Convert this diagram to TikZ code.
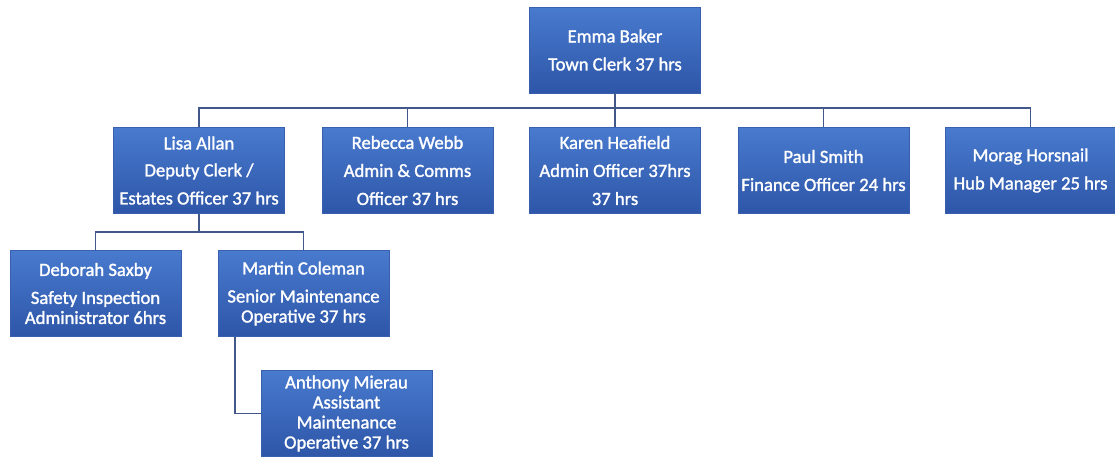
\documentclass[tikz,border=0pt]{standalone}
\usepackage{fontspec}
\setmainfont{Carlito}
\newfontfamily\orgfont{Carlito}[RawFeature={embolden=1.5}]
\definecolor{orgtop}{RGB}{72,122,206}
\definecolor{orgbot}{RGB}{46,86,168}
\definecolor{orgedge}{RGB}{56,96,174}
\definecolor{orgline}{RGB}{66,88,138}

\tikzset{
  staff/.style={rectangle, draw=orgedge, top color=orgtop, bottom color=orgbot,
    minimum width=3.42cm, minimum height=1.72cm, inner sep=0pt, text=white,
    align=center, font=\orgfont\fontsize{10.6}{11.4}\selectfont},
  link/.style={draw=orgline, line width=1.1pt}
}

\begin{document}
\begin{tikzpicture}
    \useasboundingbox (0,0) rectangle (22.3,9.14);

    % Town clerk
    \node[staff] (emma) at (12.3, 8.14) {Emma Baker\\[1.6mm]Town Clerk 37 hrs};

    % Second row
    \node[staff] (lisa) at (3.98, 5.73) {Lisa Allan\\[1.4mm]Deputy Clerk /\\[1.6mm]Estates Officer 37 hrs};
    \node[staff] (rebecca) at (8.15, 5.73) {Rebecca Webb\\[1.6mm]Admin \& Comms\\[1.6mm]Officer 37 hrs};
    \node[staff] (karen) at (12.3, 5.73) {Karen Heafield\\[1.6mm]Admin Officer 37hrs\\[1.6mm]37 hrs};
    \node[staff] (paul) at (16.47, 5.73) {Paul Smith\\[1.6mm]Finance Officer 24 hrs};
    \node[staff] (morag) at (20.61, 5.73) {Morag Horsnail\\[1.6mm]Hub Manager 25 hrs};

    % Third row
    \node[staff] (deborah) at (1.91, 3.27) {Deborah Saxby\\[1.6mm]Safety Inspection\\Administrator 6hrs};
    \node[staff] (martin) at (6.07, 3.27) {Martin Coleman\\[1.6mm]Senior Maintenance\\Operative 37 hrs};

    % Assistant
    \node[staff] (anthony) at (6.93, 0.87) {Anthony Mierau\\Assistant\\Maintenance\\Operative 37 hrs};

    % Connectors
    \foreach \n in {lisa, rebecca, karen, paul, morag}
        \draw[link] (emma.south) -- ++(0,-0.3) -| (\n.north);
    \foreach \n in {deborah, martin}
        \draw[link] (lisa.south) -- ++(0,-0.37) -| (\n.north);
    \draw[link] ([xshift=0.34cm]martin.south west) |- (anthony.west);
\end{tikzpicture}
\end{document}
